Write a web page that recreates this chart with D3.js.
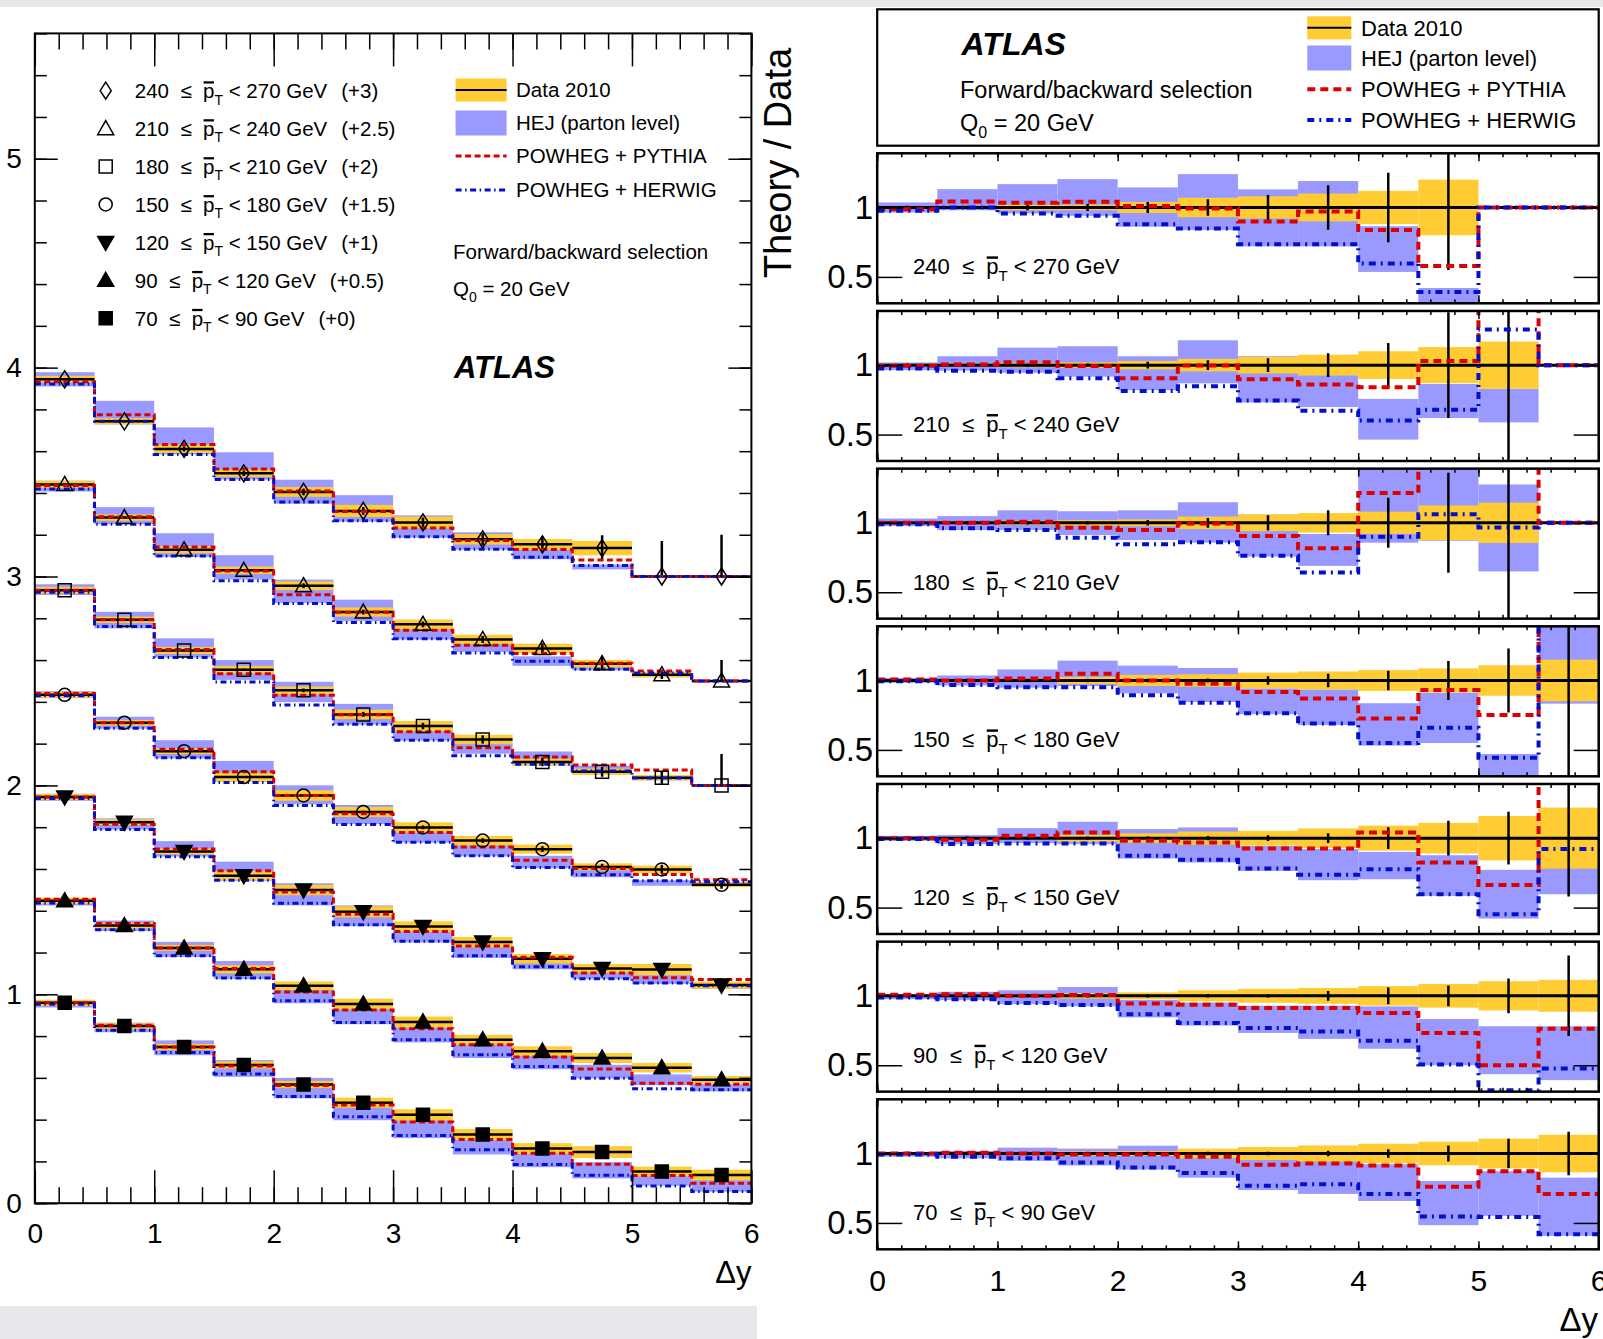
<!DOCTYPE html>
<html>
<head>
<meta charset="utf-8">
<script src="https://cdn.jsdelivr.net/npm/d3@7"></script>
<style>
  body { margin: 0; background: #fff; }
  svg text { font-family: "Liberation Sans", Arial, Helvetica, sans-serif; }
</style>
</head>
<body>
<svg id="chart" width="1603" height="1339"></svg>
<script>
// pT slices, top panel first
var sliceLo = [240, 210, 180, 150, 120, 90, 70];
var sliceHi = [270, 240, 210, 180, 150, 120, 90];
var offsets = [3, 2.5, 2, 1.5, 1, 0.5, 0];
var offsetLabels = ["(+3)", "(+2.5)", "(+2)", "(+1.5)", "(+1)", "(+0.5)", "(+0)"];
var markerTypes = ["diamond", "triangle", "square", "circle", "triangleDown", "triangle", "square"];
var markerFilled = [false, false, false, false, true, true, true];

// gap fraction (data), 12 bins of width 0.5 in dy
var gapData = [
  [0.944, 0.743, 0.611, 0.494, 0.405, 0.314, 0.259, 0.178, 0.154, 0.136, 0, 0],
  [0.941, 0.782, 0.628, 0.530, 0.456, 0.330, 0.271, 0.199, 0.156, 0.083, 0.030, 0],
  [0.934, 0.793, 0.646, 0.554, 0.455, 0.340, 0.284, 0.220, 0.112, 0.065, 0.037, 0],
  [0.934, 0.800, 0.664, 0.540, 0.452, 0.373, 0.299, 0.236, 0.195, 0.110, 0.098, 0.024],
  [0.944, 0.824, 0.684, 0.568, 0.499, 0.395, 0.325, 0.250, 0.170, 0.124, 0.119, 0.044],
  [0.948, 0.829, 0.722, 0.620, 0.541, 0.454, 0.368, 0.283, 0.228, 0.195, 0.149, 0.091],
  [0.959, 0.848, 0.748, 0.662, 0.568, 0.481, 0.423, 0.329, 0.262, 0.245, 0.152, 0.135]
];
// relative systematic (yellow band half width)
var systRel = [
  [0.01, 0.01, 0.02, 0.02, 0.04, 0.07, 0.08, 0.1, 0.12, 0.2, 0, 0],
  [0.01, 0.01, 0.015, 0.02, 0.03, 0.045, 0.06, 0.075, 0.1, 0.13, 0.17, 0],
  [0.01, 0.01, 0.015, 0.02, 0.025, 0.045, 0.06, 0.07, 0.08, 0.125, 0.145, 0],
  [0.008, 0.008, 0.01, 0.025, 0.04, 0.045, 0.057, 0.065, 0.075, 0.087, 0.11, 0.15],
  [0.008, 0.008, 0.01, 0.025, 0.035, 0.048, 0.053, 0.07, 0.09, 0.11, 0.16, 0.22],
  [0.008, 0.008, 0.01, 0.02, 0.025, 0.04, 0.05, 0.057, 0.07, 0.085, 0.105, 0.115],
  [0.008, 0.008, 0.01, 0.015, 0.017, 0.035, 0.047, 0.058, 0.07, 0.085, 0.107, 0.135]
];
// relative statistical error (error bars)
var statRel = [
  [0.005, 0.008, 0.02, 0.025, 0.04, 0.06, 0.09, 0.16, 0.25, 0.45, 0, 0],
  [0.005, 0.005, 0.008, 0.01, 0.025, 0.035, 0.05, 0.085, 0.16, 0.38, 0.7, 0],
  [0.005, 0.005, 0.008, 0.01, 0.02, 0.035, 0.055, 0.09, 0.18, 0.36, 0.8, 0],
  [0.004, 0.005, 0.006, 0.008, 0.01, 0.015, 0.03, 0.048, 0.07, 0.14, 0.23, 0.8],
  [0.004, 0.005, 0.006, 0.008, 0.01, 0.015, 0.02, 0.035, 0.078, 0.125, 0.19, 0.42],
  [0.003, 0.004, 0.005, 0.006, 0.008, 0.01, 0.012, 0.035, 0.06, 0.075, 0.125, 0.29],
  [0.003, 0.004, 0.005, 0.006, 0.008, 0.01, 0.01, 0.02, 0.03, 0.058, 0.107, 0.157]
];
// error bars in bins without data: [slice, bin, upward size]
var emptyBinErrors = [[0, 10, 0.17], [0, 11, 0.2], [1, 11, 0.1], [2, 11, 0.15]];

// theory / data
var hejLo = [
  [0.964, 0.98, 0.957, 0.94, 0.861, 0.837, 0.72, 0.72, 0.536, 0.25, null, null],
  [0.964, 0.96, 0.945, 0.917, 0.82, 0.869, 0.731, 0.698, 0.464, 0.619, 0.588, null],
  [0.976, 0.948, 0.948, 0.912, 0.876, 0.857, 0.757, 0.69, 0.857, 0.871, 0.65, null],
  [0.983, 0.964, 0.948, 0.96, 0.907, 0.845, 0.757, 0.679, 0.531, 0.55, 0.2, 0.833],
  [0.981, 0.957, 0.964, 0.957, 0.853, 0.825, 0.764, 0.697, 0.704, 0.584, 0.421, 0.596],
  [0.976, 0.969, 0.94, 0.924, 0.845, 0.786, 0.733, 0.69, 0.619, 0.5, 0.436, 0.393],
  [0.977, 0.965, 0.947, 0.914, 0.884, 0.826, 0.737, 0.709, 0.658, 0.484, 0.551, 0.407]
];
var hejHi = [
  [1.036, 1.132, 1.168, 1.204, 1.144, 1.24, 1.13, 1.19, 0.865, 0.42, null, null],
  [1.019, 1.064, 1.126, 1.136, 1.064, 1.179, 1.064, 1.055, 0.757, 0.864, 0.83, null],
  [1.031, 1.048, 1.09, 1.083, 1.09, 1.148, 1.06, 0.919, 1.45, 1.45, 1.276, null],
  [1.019, 1.036, 1.079, 1.143, 1.107, 1.09, 0.943, 0.936, 0.836, 0.912, 0.471, 1.5],
  [1.017, 1.022, 1.072, 1.118, 1.065, 1.077, 0.945, 0.921, 0.901, 0.877, 0.772, 1.209],
  [1.012, 1.029, 1.04, 1.064, 0.971, 0.952, 0.929, 0.929, 0.924, 0.833, 0.781, 0.781],
  [1.012, 1.019, 1.042, 1.035, 1.056, 0.988, 0.953, 0.953, 0.923, 0.802, 0.872, 0.826]
];
var pythia = [
  [0.988, 1.043, 1.034, 1.041, 1.01, 0.993, 0.899, 0.971, 0.837, 0.579, 1, 1],
  [0.995, 1.005, 1.021, 0.993, 0.905, 0.998, 0.898, 0.86, 0.84, 1.029, 1.6, 1],
  [1.0, 1.0, 1.007, 0.964, 0.948, 0.995, 0.905, 0.817, 1.214, 1.5, 2.0, 1],
  [1.007, 1.0, 1.014, 1.048, 1.0, 0.976, 0.917, 0.871, 0.726, 0.931, 0.752, 2.0],
  [1.0, 0.988, 1.017, 1.041, 0.981, 0.969, 0.925, 0.925, 1.041, 0.825, 0.663, 1.6],
  [1.007, 1.012, 1.0, 1.005, 0.945, 0.936, 0.912, 0.912, 0.876, 0.733, 0.5, 0.762],
  [1.0, 1.005, 1.0, 0.993, 0.993, 0.977, 0.919, 0.928, 0.914, 0.76, 0.872, 0.709]
];
var herwig = [
  [0.976, 1.0, 0.957, 0.94, 0.88, 0.849, 0.736, 0.736, 0.596, 0.392, 1, 1],
  [0.976, 0.96, 0.952, 0.905, 0.814, 0.848, 0.745, 0.671, 0.602, 0.679, 1.257, 1],
  [0.99, 0.96, 0.948, 0.893, 0.845, 0.86, 0.762, 0.643, 0.9, 1.062, 0.967, 1],
  [0.995, 0.967, 0.952, 0.952, 0.893, 0.84, 0.764, 0.69, 0.55, 0.66, 0.443, 1.6],
  [0.993, 0.957, 0.962, 0.962, 0.873, 0.844, 0.781, 0.736, 0.776, 0.596, 0.452, 0.921],
  [0.988, 0.976, 0.948, 0.933, 0.867, 0.805, 0.769, 0.743, 0.676, 0.505, 0.32, 0.476],
  [0.993, 0.977, 0.965, 0.935, 0.9, 0.86, 0.767, 0.779, 0.709, 0.547, 0.542, 0.419]
];

var legendNames = ["Data 2010", "HEJ (parton level)", "POWHEG + PYTHIA", "POWHEG + HERWIG"];

var YELLOW = "#ffcc33", HEJBLUE = "#9999ff", RED = "#dd0000", BLUE = "#0010cc";
var binW = 0.5, nBins = 12;

var svg = d3.select("#chart");

// grey strips from the scanned page
svg.append("rect").attr("x", 0).attr("y", 0).attr("width", 1603).attr("height", 7).attr("fill", "#e4e6e9");
svg.append("rect").attr("x", 0).attr("y", 1306).attr("width", 757).attr("height", 33).attr("fill", "#e6e8eb");

function stepPoints(vals) {
  var pts = vals.map(function (v, i) { return [i * binW, v]; });
  pts.push([6, vals[vals.length - 1]]);
  return pts;
}

function markerPath(t) {
  if (t == "diamond") return "M0,-8.5L5.5,0L0,8.5L-5.5,0Z";
  if (t == "triangle") return "M0,-8L8,6L-8,6Z";
  if (t == "triangleDown") return "M0,8L8,-6L-8,-6Z";
  if (t == "square") return "M-6.5,-6.5H6.5V6.5H-6.5Z";
  return "M6.5,0A6.5,6.5 0 1,1 -6.5,0A6.5,6.5 0 1,1 6.5,0Z";
}

// "lo <= pT < hi GeV" with a bar over p and subscript T
function ptText(sel, i, fs, x, y) {
  sel.attr("x", x).attr("y", y).attr("xml:space", "preserve").style("white-space", "pre").attr("font-size", fs);
  var first = sliceLo[i] + "  \u2264  ";
  sel.append("tspan").text(first);
  sel.append("tspan").text("p");
  sel.append("tspan").text("T").attr("font-size", fs * 0.68).attr("dy", fs * 0.32);
  sel.append("tspan").text(" < " + sliceHi[i] + " GeV").attr("dy", -fs * 0.32);
  var ext = sel.node().getExtentOfChar(first.length);
  svg.append("line").attr("x1", ext.x + 0.5).attr("x2", ext.x + ext.width - 0.5)
    .attr("y1", y - fs * 0.76).attr("y2", y - fs * 0.76)
    .attr("stroke", "#000").attr("stroke-width", fs * 0.11);
}

function styleAxis(g) {
  g.select(".domain").remove();
  g.selectAll(".tick line").attr("stroke", "#000").attr("stroke-width", 1.5);
}

// ---------------- left panel: gap fraction ----------------
var xL = d3.scaleLinear().domain([0, 6]).range([34.8, 751.4]);
var yL = d3.scaleLinear().domain([0, 5.6]).range([1203.2, 33.4]);

svg.append("clipPath").attr("id", "clipL").append("rect")
  .attr("x", xL(0)).attr("y", yL(5.6)).attr("width", xL(6) - xL(0)).attr("height", yL(0) - yL(5.6));

var gL = svg.append("g").attr("clip-path", "url(#clipL)");
var lineL = d3.line().x(function (d) { return xL(d[0]); }).y(function (d) { return yL(d[1]); }).curve(d3.curveStepAfter);

// HEJ boxes
gapData.forEach(function (dat, s) {
  dat.forEach(function (d, b) {
    if (hejLo[s][b] == null || d <= 0) return;
    var top = yL(offsets[s] + d * hejHi[s][b]), bot = yL(offsets[s] + d * hejLo[s][b]);
    gL.append("rect").attr("x", xL(b * binW)).attr("width", xL(binW) - xL(0))
      .attr("y", top).attr("height", Math.max(bot - top, 0.5)).attr("fill", HEJBLUE);
  });
});
// data systematic band
gapData.forEach(function (dat, s) {
  dat.forEach(function (d, b) {
    if (d <= 0) return;
    var top = yL(offsets[s] + d * (1 + systRel[s][b])), bot = yL(offsets[s] + d * (1 - systRel[s][b]));
    gL.append("rect").attr("x", xL(b * binW)).attr("width", xL(binW) - xL(0))
      .attr("y", top - 1.5).attr("height", bot - top + 3).attr("fill", YELLOW);
  });
});
// data line and error bars
gapData.forEach(function (dat, s) {
  dat.forEach(function (d, b) {
    gL.append("line").attr("x1", xL(b * binW)).attr("x2", xL((b + 1) * binW))
      .attr("y1", yL(offsets[s] + d)).attr("y2", yL(offsets[s] + d))
      .attr("stroke", "#000").attr("stroke-width", 2.5);
    if (d > 0) {
      gL.append("line").attr("x1", xL((b + 0.5) * binW)).attr("x2", xL((b + 0.5) * binW))
        .attr("y1", yL(offsets[s] + d * (1 + statRel[s][b]))).attr("y2", yL(offsets[s] + d * (1 - statRel[s][b])))
        .attr("stroke", "#000").attr("stroke-width", 2.5);
    }
  });
});
emptyBinErrors.forEach(function (e) {
  var cx = xL((e[1] + 0.5) * binW);
  gL.append("line").attr("x1", cx).attr("x2", cx)
    .attr("y1", yL(offsets[e[0]])).attr("y2", yL(offsets[e[0]] + e[2]))
    .attr("stroke", "#000").attr("stroke-width", 2.5);
});
// theory step lines
gapData.forEach(function (dat, s) {
  var red = dat.map(function (d, b) { return offsets[s] + d * pythia[s][b]; });
  gL.append("path").attr("d", lineL(stepPoints(red))).attr("fill", "none")
    .attr("stroke", RED).attr("stroke-width", 3).attr("stroke-dasharray", "6,3.5");
});
gapData.forEach(function (dat, s) {
  var blue = dat.map(function (d, b) { return offsets[s] + d * herwig[s][b]; });
  gL.append("path").attr("d", lineL(stepPoints(blue))).attr("fill", "none")
    .attr("stroke", BLUE).attr("stroke-width", 3).attr("stroke-dasharray", "6,3.5,1.5,3.5");
});
// markers
gapData.forEach(function (dat, s) {
  dat.forEach(function (d, b) {
    gL.append("path").attr("d", markerPath(markerTypes[s]))
      .attr("transform", "translate(" + xL((b + 0.5) * binW) + "," + yL(offsets[s] + d) + ")")
      .attr("fill", markerFilled[s] ? "#000" : "none").attr("stroke", "#000").attr("stroke-width", 1.5);
  });
});

// left frame and axes
svg.append("rect").attr("x", xL(0)).attr("y", yL(5.6)).attr("width", xL(6) - xL(0)).attr("height", yL(0) - yL(5.6))
  .attr("fill", "none").attr("stroke", "#000").attr("stroke-width", 2);

var minorX = d3.range(0, 6.001, 0.2);
var minorY = d3.range(0, 5.601, 0.2);
var intFmt = d3.format("d");
svg.append("g").attr("transform", "translate(0," + yL(0) + ")")
  .call(d3.axisBottom(xL).tickValues(minorX).tickSize(-16).tickFormat("")).call(styleAxis);
svg.append("g").attr("transform", "translate(0," + yL(0) + ")")
  .call(d3.axisBottom(xL).ticks(6).tickSize(-33).tickPadding(20).tickFormat(intFmt)).call(styleAxis)
  .selectAll("text").attr("font-size", 28).attr("font-family", "Liberation Sans, Arial, sans-serif").attr("fill", "#000");
svg.append("g").attr("transform", "translate(0," + yL(5.6) + ")")
  .call(d3.axisTop(xL).tickValues(minorX).tickSize(-16).tickFormat("")).call(styleAxis);
svg.append("g").attr("transform", "translate(0," + yL(5.6) + ")")
  .call(d3.axisTop(xL).ticks(6).tickSize(-33).tickFormat("")).call(styleAxis);
svg.append("g").attr("transform", "translate(" + xL(0) + ",0)")
  .call(d3.axisLeft(yL).tickValues(minorY).tickSize(-12).tickFormat("")).call(styleAxis);
svg.append("g").attr("transform", "translate(" + xL(0) + ",0)")
  .call(d3.axisLeft(yL).tickValues([0, 1, 2, 3, 4, 5]).tickSize(-23).tickPadding(13).tickFormat(intFmt)).call(styleAxis)
  .selectAll("text").attr("font-size", 28).attr("font-family", "Liberation Sans, Arial, sans-serif").attr("fill", "#000");
svg.append("g").attr("transform", "translate(" + xL(6) + ",0)")
  .call(d3.axisRight(yL).tickValues(minorY).tickSize(-12).tickFormat("")).call(styleAxis);
svg.append("g").attr("transform", "translate(" + xL(6) + ",0)")
  .call(d3.axisRight(yL).tickValues([0, 1, 2, 3, 4, 5]).tickSize(-23).tickFormat("")).call(styleAxis);

svg.append("text").attr("x", 751.4).attr("y", 1283).attr("text-anchor", "end").attr("font-size", 31).text("\u0394y");

// left legend: slices
sliceLo.forEach(function (lo, i) {
  var yy = 90.7 + i * 37.93;
  svg.append("path").attr("d", markerPath(markerTypes[i]))
    .attr("transform", "translate(105.7," + yy + ")")
    .attr("fill", markerFilled[i] ? "#000" : "none").attr("stroke", "#000").attr("stroke-width", 1.5);
  var t = svg.append("text");
  ptText(t, i, 20.5, 134.8, yy + 7.3);
  t.append("tspan").attr("dx", 14).text(offsetLabels[i]);
});

// model legend
function legendSwatches(x0, w, rows, fs, textX, lw, dashR, dashB) {
  svg.append("rect").attr("x", x0).attr("y", rows[0] - 11.5).attr("width", w).attr("height", 23).attr("fill", YELLOW);
  svg.append("line").attr("x1", x0).attr("x2", x0 + w).attr("y1", rows[0]).attr("y2", rows[0]).attr("stroke", "#000").attr("stroke-width", 2);
  svg.append("rect").attr("x", x0).attr("y", rows[1] - 12.5).attr("width", w).attr("height", 25).attr("fill", HEJBLUE);
  svg.append("line").attr("x1", x0).attr("x2", x0 + w).attr("y1", rows[2]).attr("y2", rows[2])
    .attr("stroke", RED).attr("stroke-width", lw).attr("stroke-dasharray", dashR);
  svg.append("line").attr("x1", x0).attr("x2", x0 + w).attr("y1", rows[3]).attr("y2", rows[3])
    .attr("stroke", BLUE).attr("stroke-width", lw).attr("stroke-dasharray", dashB);
  legendNames.forEach(function (n, i) {
    svg.append("text").attr("x", textX).attr("y", rows[i] + fs * 0.36).attr("font-size", fs).text(n);
  });
}
legendSwatches(455.6, 51, [90, 123, 156, 190], 20.5, 516, 3, "6,3.5", "6,3.5,1.5,3.5");

svg.append("text").attr("x", 453).attr("y", 258.5).attr("font-size", 20.5).text("Forward/backward selection");
var q1 = svg.append("text").attr("x", 453).attr("y", 296).attr("font-size", 20.5).attr("xml:space", "preserve");
q1.append("tspan").text("Q");
q1.append("tspan").text("0").attr("font-size", 14).attr("dy", 6);
q1.append("tspan").text(" = 20 GeV").attr("dy", -6);
svg.append("text").attr("x", 454).attr("y", 378).attr("font-size", 31).attr("font-weight", "bold")
  .attr("font-style", "italic").text("ATLAS");

// ---------------- right panels: theory / data ----------------
var xR = d3.scaleLinear().domain([0, 6]).range([877.2, 1598.7]);
var panelH = 150, panelStep = 157.67, panelTop0 = 153.3;
var lineR = function (yR) {
  return d3.line().x(function (d) { return xR(d[0]); }).y(function (d) { return yR(d[1]); }).curve(d3.curveStepAfter);
};

// header box
svg.append("rect").attr("x", 877.2).attr("y", 9.3).attr("width", 721.5).attr("height", 136.4)
  .attr("fill", "#fff").attr("stroke", "#000").attr("stroke-width", 2.2);
svg.append("text").attr("x", 961.6).attr("y", 55).attr("font-size", 32).attr("font-weight", "bold")
  .attr("font-style", "italic").text("ATLAS");
svg.append("text").attr("x", 960).attr("y", 98.3).attr("font-size", 23.5).text("Forward/backward selection");
var q2 = svg.append("text").attr("x", 960).attr("y", 131).attr("font-size", 23.5).attr("xml:space", "preserve");
q2.append("tspan").text("Q");
q2.append("tspan").text("0").attr("font-size", 16).attr("dy", 7);
q2.append("tspan").text(" = 20 GeV").attr("dy", -7);
legendSwatches(1307.3, 44, [27.8, 58, 89.3, 120], 22, 1361, 4, "8,5", "7,5,2,5");

svg.append("text").attr("transform", "translate(791,163) rotate(-90)").attr("text-anchor", "middle")
  .attr("font-size", 38).attr("font-family", "DejaVu Sans, Verdana, sans-serif").text("Theory / Data");

gapData.forEach(function (dat, s) {
  var top = panelTop0 + s * panelStep;
  var yR = d3.scaleLinear().domain([0.31, 1.39]).range([top + panelH, top]);
  var cid = "clipR" + s;
  svg.append("clipPath").attr("id", cid).append("rect")
    .attr("x", xR(0)).attr("y", top).attr("width", xR(6) - xR(0)).attr("height", panelH);
  var g = svg.append("g").attr("clip-path", "url(#" + cid + ")");

  dat.forEach(function (d, b) {
    if (hejLo[s][b] == null) return;
    g.append("rect").attr("x", xR(b * binW)).attr("width", xR(binW) - xR(0))
      .attr("y", yR(hejHi[s][b])).attr("height", yR(hejLo[s][b]) - yR(hejHi[s][b])).attr("fill", HEJBLUE);
  });
  dat.forEach(function (d, b) {
    if (d <= 0) return;
    g.append("rect").attr("x", xR(b * binW)).attr("width", xR(binW) - xR(0))
      .attr("y", yR(1 + systRel[s][b])).attr("height", yR(1 - systRel[s][b]) - yR(1 + systRel[s][b]))
      .attr("fill", YELLOW);
  });
  g.append("line").attr("x1", xR(0)).attr("x2", xR(6)).attr("y1", yR(1)).attr("y2", yR(1))
    .attr("stroke", "#000").attr("stroke-width", 3);
  dat.forEach(function (d, b) {
    if (d <= 0) return;
    var e = Math.max(statRel[s][b], 0.012);
    g.append("line").attr("x1", xR((b + 0.5) * binW)).attr("x2", xR((b + 0.5) * binW))
      .attr("y1", yR(1 + e)).attr("y2", yR(1 - e)).attr("stroke", "#000").attr("stroke-width", 2.5);
  });
  g.append("path").attr("d", lineR(yR)(stepPoints(pythia[s]))).attr("fill", "none")
    .attr("stroke", RED).attr("stroke-width", 4).attr("stroke-dasharray", "8,5");
  g.append("path").attr("d", lineR(yR)(stepPoints(herwig[s]))).attr("fill", "none")
    .attr("stroke", BLUE).attr("stroke-width", 4).attr("stroke-dasharray", "7,5,2,5");

  svg.append("rect").attr("x", xR(0)).attr("y", top).attr("width", xR(6) - xR(0)).attr("height", panelH)
    .attr("fill", "none").attr("stroke", "#000").attr("stroke-width", 2.5);

  var minorR = d3.range(0, 6.001, 0.2);
  svg.append("g").attr("transform", "translate(0," + (top + panelH) + ")")
    .call(d3.axisBottom(xR).tickValues(minorR).tickSize(-4).tickFormat("")).call(styleAxis);
  var bottomMajor = svg.append("g").attr("transform", "translate(0," + (top + panelH) + ")")
    .call(d3.axisBottom(xR).ticks(6).tickSize(-8).tickPadding(20).tickFormat(intFmt)).call(styleAxis);
  if (s < gapData.length - 1) bottomMajor.selectAll("text").remove();
  else bottomMajor.selectAll("text").attr("font-size", 30).attr("font-family", "Liberation Sans, Arial, sans-serif").attr("fill", "#000");
  svg.append("g").attr("transform", "translate(0," + top + ")")
    .call(d3.axisTop(xR).tickValues(minorR).tickSize(-4).tickFormat("")).call(styleAxis);
  svg.append("g").attr("transform", "translate(0," + top + ")")
    .call(d3.axisTop(xR).ticks(6).tickSize(-8).tickFormat("")).call(styleAxis);
  svg.append("g").attr("transform", "translate(" + xR(0) + ",0)")
    .call(d3.axisLeft(yR).tickValues([0.5, 1]).tickSize(-25).tickPadding(4).tickFormat(d3.format("")))
    .call(styleAxis)
    .selectAll("text").attr("font-size", 33).attr("font-family", "Liberation Sans, Arial, sans-serif").attr("fill", "#000");
  svg.append("g").attr("transform", "translate(" + xR(6) + ",0)")
    .call(d3.axisRight(yR).tickValues([0.5, 1]).tickSize(-25).tickFormat("")).call(styleAxis);

  var lab = svg.append("text");
  ptText(lab, s, 22, 913, top + 121);
});

svg.append("text").attr("x", 1598).attr("y", 1331).attr("text-anchor", "end").attr("font-size", 33).text("\u0394y");
</script>
</body>
</html>
